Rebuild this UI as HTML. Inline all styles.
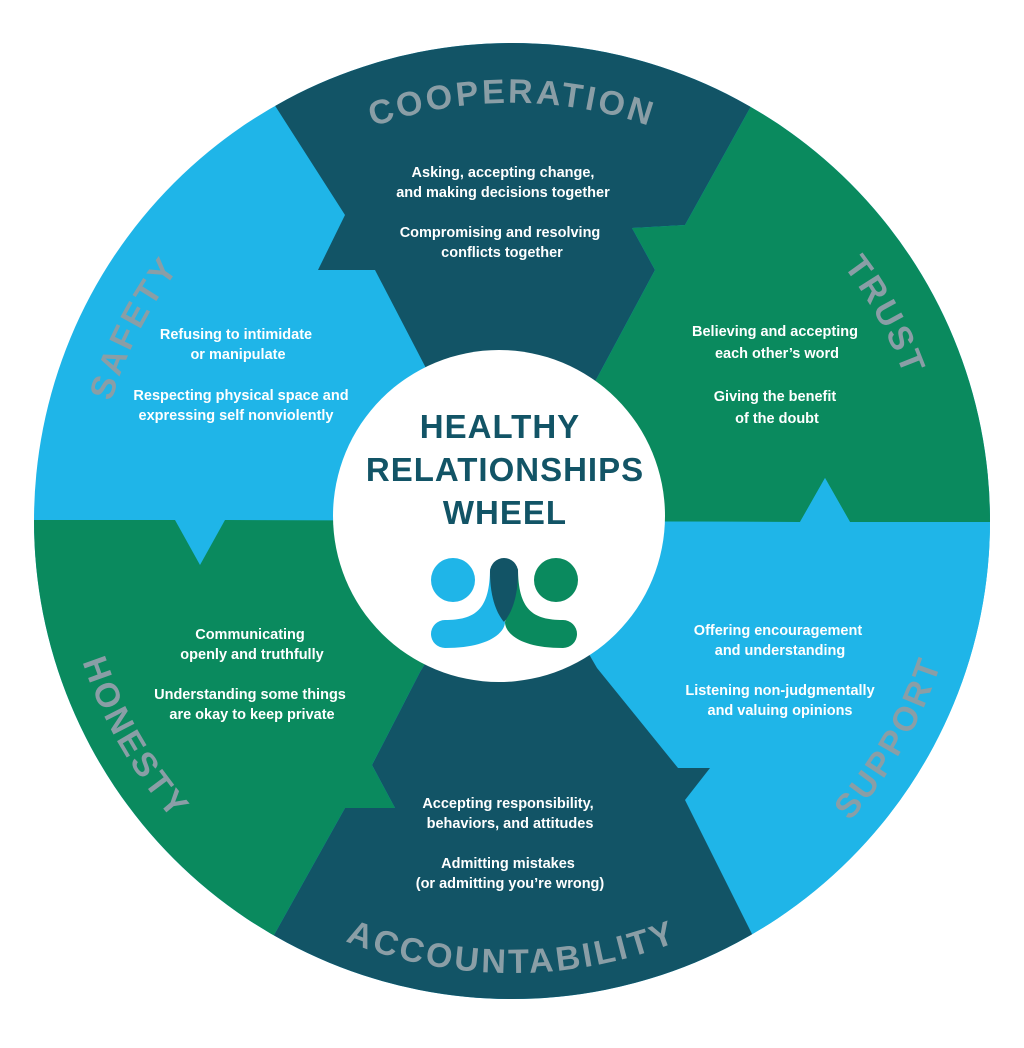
<!DOCTYPE html>
<html><head><meta charset="utf-8"><style>
html,body{margin:0;padding:0;background:#fff;}
svg{display:block;}
.b{font-family:"Liberation Sans",sans-serif;font-weight:bold;font-size:14.5px;fill:#fff;text-anchor:middle;dominant-baseline:middle;}
.l{font-family:"Liberation Sans",sans-serif;font-weight:bold;font-size:34px;fill:#8a9ea6;letter-spacing:3px;}
.c{font-family:"Liberation Sans",sans-serif;font-weight:bold;font-size:33px;fill:#125466;text-anchor:middle;letter-spacing:1px;}
</style></head><body>
<svg width="1024" height="1048" viewBox="0 0 1024 1048" xmlns="http://www.w3.org/2000/svg">
<defs>
<clipPath id="cc"><circle cx="512" cy="521" r="478"/></clipPath>
<path id="cw" d="M 94,521 A 418 418 0 1 1 930,521 A 418 418 0 1 1 94,521"/>
<path id="ccw" d="M 60,521 A 452 452 0 1 0 964,521 A 452 452 0 1 0 60,521"/>
</defs>
<g clip-path="url(#cc)">
<rect x="0" y="0" width="1024" height="1048" fill="#1fb5e8"/>
<polygon fill="#125466" points="512,521 428,372 375,270 318,270 345,215 265,90 250,-50 790,-50 760,90 685,225 632,228 655,270 597,378"/>
<polygon fill="#0a8a5e" points="512,521 597,378 655,270 632,228 685,225 760,90 1100,-50 1100,522 850,522 825,478 800,522"/>
<polygon fill="#1fb5e8" points="512,521 800,522 825,478 850,522 1100,522 1100,1100 770,970 685,800 710,768 678,768 597,668"/>
<polygon fill="#125466" points="512,521 597,668 678,768 710,768 685,800 770,970 790,1100 250,1100 260,960 345,808 395,808 372,765 420,672"/>
<polygon fill="#0a8a5e" points="512,521 420,672 372,765 395,808 345,808 260,960 -50,1100 -50,520 175,520 200,565 225,520"/>
</g>
<circle cx="499" cy="516" r="166" fill="#fff"/>
<text class="l"><textPath href="#cw" startOffset="25%" text-anchor="middle">COOPERATION</textPath></text>
<text class="l"><textPath href="#cw" startOffset="42%" text-anchor="middle">TRUST</textPath></text>
<text class="l"><textPath href="#cw" startOffset="7.5%" text-anchor="middle">SAFETY</textPath></text>
<text class="l"><textPath href="#ccw" startOffset="8.3%" text-anchor="middle">HONESTY</textPath></text>
<text class="l"><textPath href="#ccw" startOffset="25%" text-anchor="middle">ACCOUNTABILITY</textPath></text>
<text class="l"><textPath href="#ccw" startOffset="41.7%" text-anchor="middle">SUPPORT</textPath></text>
<text class="c" x="500" y="438">HEALTHY</text>
<text class="c" x="505" y="481">RELATIONSHIPS</text>
<text class="c" x="505" y="524">WHEEL</text>
<circle cx="453" cy="580" r="22" fill="#1fb5e8"/>
<circle cx="556" cy="580" r="22" fill="#0a8a5e"/>
<path fill="#1fb5e8" d="M 490,568 C 490,610 475,620 445,620 A14 14 0 0 0 445,648 C 490,648 505,632 505,622 Z"/>
<path fill="#0a8a5e" d="M 518,568 C 518,610 533,620 563,620 A14 14 0 0 1 563,648 C 518,648 505,632 505,622 Z"/>
<path fill="#125466" d="M 490,572 A14 14 0 0 1 518,572 C 518,600 510,615 504,622 C 498,615 490,600 490,572 Z"/>
<text class="b" x="503" y="173">Asking, accepting change,</text>
<text class="b" x="503" y="193">and making decisions together</text>
<text class="b" x="500" y="233">Compromising and resolving</text>
<text class="b" x="502" y="253">conflicts together</text>
<text class="b" x="236" y="335">Refusing to intimidate</text>
<text class="b" x="238" y="355">or manipulate</text>
<text class="b" x="241" y="396">Respecting physical space and</text>
<text class="b" x="236" y="416">expressing self nonviolently</text>
<text class="b" x="775" y="332">Believing and accepting</text>
<text class="b" x="777" y="354">each other’s word</text>
<text class="b" x="775" y="397">Giving the benefit</text>
<text class="b" x="777" y="419">of the doubt</text>
<text class="b" x="250" y="635">Communicating</text>
<text class="b" x="252" y="655">openly and truthfully</text>
<text class="b" x="250" y="695">Understanding some things</text>
<text class="b" x="252" y="715">are okay to keep private</text>
<text class="b" x="778" y="631">Offering encouragement</text>
<text class="b" x="780" y="651">and understanding</text>
<text class="b" x="780" y="691">Listening non-judgmentally</text>
<text class="b" x="780" y="711">and valuing opinions</text>
<text class="b" x="508" y="804">Accepting responsibility,</text>
<text class="b" x="510" y="824">behaviors, and attitudes</text>
<text class="b" x="508" y="864">Admitting mistakes</text>
<text class="b" x="510" y="884">(or admitting you’re wrong)</text>
</svg>
</body></html>
